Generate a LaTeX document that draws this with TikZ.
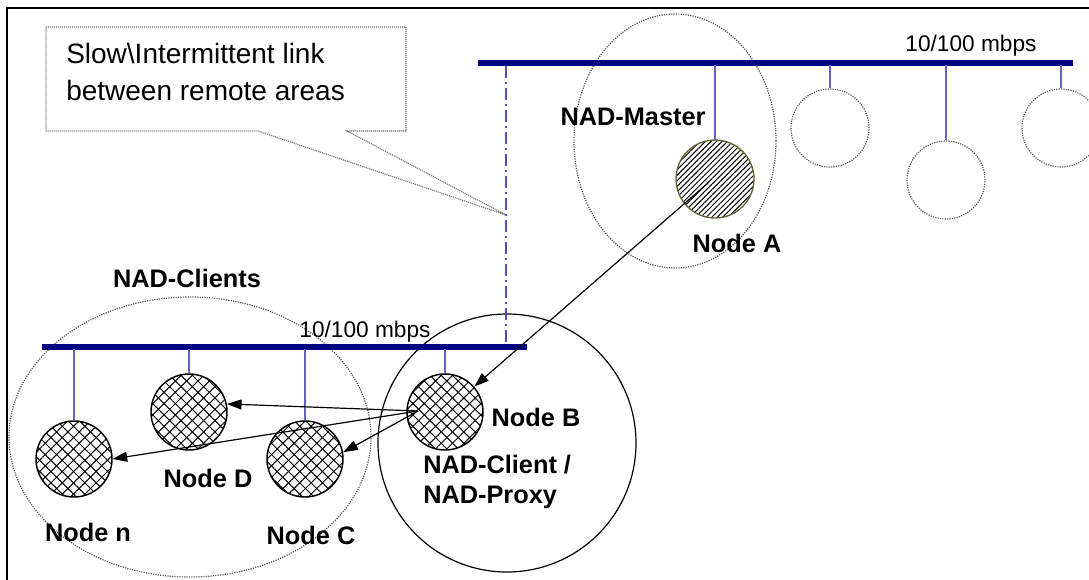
\documentclass[tikz,border=0pt]{standalone}
\usepackage{fontspec}
\setmainfont{Liberation Sans}
\usetikzlibrary{patterns.meta,arrows.meta}
\definecolor{busblue}{RGB}{0,0,128}
\definecolor{stemblue}{RGB}{100,100,200}
\definecolor{linkblue}{RGB}{80,80,190}
\definecolor{olivec}{RGB}{100,100,50}
\tikzset{
  bus/.style={draw=busblue,line width=3.8pt},
  stem/.style={draw=stemblue,line width=1.5pt},
  dotline/.style={draw=black!65,line width=0.9pt,dash pattern=on 0.9pt off 0.9pt},
  calloutline/.style={draw=black!55,line width=0.9pt,dash pattern=on 0.8pt off 0.7pt},
  hostA/.style={circle,draw=olivec,line width=1pt,minimum size=58.5pt,inner sep=0pt,
    preaction={fill=white},pattern={Lines[angle=45,distance=2.9pt,line width=0.75pt]}},
  hostX/.style={circle,draw=black,line width=1.1pt,minimum size=57pt,inner sep=0pt,
    preaction={fill=white},preaction={pattern={Lines[angle=45,distance=6pt,line width=0.75pt]}},
    pattern={Lines[angle=-45,distance=6pt,line width=0.75pt]}},
  hostO/.style={circle,dotline,minimum size=58.5pt,inner sep=0pt},
  blabel/.style={font=\fontsize{19pt}{22.5pt}\selectfont\bfseries,inner sep=0pt},
  slabel/.style={font=\fontsize{17pt}{20pt}\selectfont,inner sep=0pt},
  arr/.style={draw=black,line width=0.9pt,-{Triangle[length=11pt,width=7.5pt]}}
}
\begin{document}
\begin{tikzpicture}[x=0.75pt,y=-0.75pt]
\useasboundingbox (0,0) rectangle (1089,579);
\clip (0,0) rectangle (1089,579);
\fill[white] (0,0) rectangle (1089,579);
% frame
\draw[line width=1.6pt] (7,8) rectangle (1110,600);

% group ellipses
\draw[dotline] (675,141) ellipse [x radius=75.75pt, y radius=95.25pt];
\draw[dotline] (190,437) ellipse [x radius=135.75pt, y radius=105pt];
\draw[draw=black,line width=0.9pt] (507,443) circle [radius=96.75pt];

% callout
\coordinate (ctip) at (506,215);
\draw[calloutline] (46,27) -- (406,27) -- (406,131) -- (347,131) -- (ctip) -- (258,131) -- (46,131) -- cycle;
\node[anchor=west,align=left,inner sep=0pt,font=\fontsize{21pt}{27.5pt}\selectfont] (ctext) at (66,72)
  {Slow\textbackslash Intermittent link\\between remote areas};

% buses
\coordinate (bus1w) at (478,63);
\coordinate (bus1e) at (1073,63);
\draw[bus] (bus1w) -- (bus1e);
\coordinate (bus2w) at (42,347);
\coordinate (bus2e) at (527,347);
\draw[bus] (bus2w) -- (bus2e);
% link between areas
\coordinate (lk1) at (506,66);
\coordinate (lk2) at (506,345);
\draw[draw=linkblue,line width=1.5pt,dash pattern=on 9pt off 3pt on 1.5pt off 3pt] (lk1) -- (lk2);

% hosts top
\node[hostA] (nA) at (715,179) {};
\node[hostO] (o1) at (830,128) {};
\node[hostO] (o2) at (946,180) {};
\node[hostO] (o3) at (1061,128) {};
\coordinate (tA) at (715,65);
\coordinate (t1) at (830,65);
\coordinate (t2) at (946,65);
\coordinate (t3) at (1061,65);
\draw[stem] (tA) -- (nA.north);
\draw[stem] (t1) -- (o1.north);
\draw[stem] (t2) -- (o2.north);
\draw[stem] (t3) -- (o3.north);

% hosts bottom
\node[hostX] (nn) at (74,459) {};
\node[hostX] (nD) at (189,412) {};
\node[hostX] (nC) at (305,459) {};
\node[hostX] (nB) at (445,412) {};
\coordinate (sn) at (74,349);
\coordinate (sD) at (189,349);
\coordinate (sC) at (305,349);
\coordinate (sB) at (445,349);
\draw[stem] (sn) -- (nn.north);
\draw[stem] (sD) -- (nD.north);
\draw[stem] (sC) -- (nC.north);
\draw[stem] (sB) -- (nB.north);

% arrows
\coordinate (srcA) at (708,183);
\coordinate (srcB) at (418,411);
\draw[arr] (srcA) -- (nB);
\draw[arr] (srcB) -- (nD.12);
\draw[arr] (srcB) -- (nn.east);
\draw[arr] (srcB) -- (nC.10);

% labels
\node[slabel] (sp1) at (971,46) {10/100 mbps};
\node[slabel] (sp2) at (365,332) {10/100 mbps};
\node[blabel] (lM) at (633,117) {NAD-Master};
\node[blabel] (lA) at (737,243) {Node A};
\node[blabel] (lCl) at (187,278) {NAD-Clients};
\node[blabel] (lB) at (536,417) {Node B};
\node[blabel,align=left,anchor=west] (lP) at (423,482) {NAD-Client /\\NAD-Proxy};
\node[blabel] (lD) at (208,478) {Node D};
\node[blabel] (ln) at (88,532) {Node n};
\node[blabel] (lC) at (311,535) {Node C};
\end{tikzpicture}
\end{document}
